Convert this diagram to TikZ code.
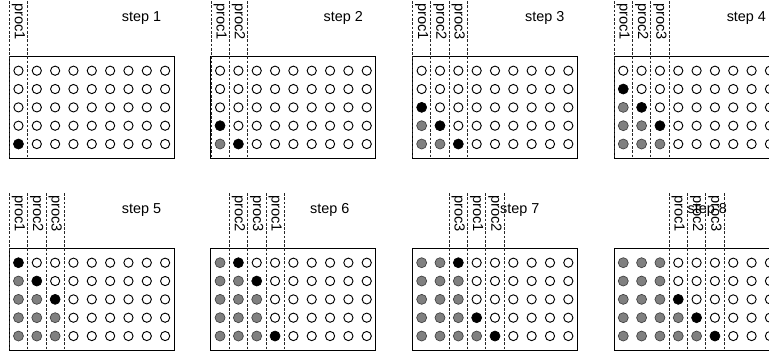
\documentclass[tikz,border=0pt]{standalone}
\usepackage{fontspec}
\setmainfont{Liberation Sans}
\begin{document}
\begin{tikzpicture}[x=0.75pt,y=-0.75pt,
  box/.style={draw=black,line width=0.75pt},
  sep/.style={draw=black!85,line width=0.55pt,dash pattern=on 2pt off 1.2pt},
  dotwhite/.style={circle,draw=black,line width=0.7pt,fill=white,inner sep=0pt,minimum size=6.9pt},
  dotgray/.style={circle,draw=black!75,line width=0.5pt,fill=black!50,inner sep=0pt,minimum size=7.5pt},
  dotblack/.style={circle,draw=black,line width=0.5pt,fill=black,inner sep=0pt,minimum size=7.5pt},
  proclabel/.style={font=\fontsize{11pt}{13pt}\selectfont,inner sep=0pt,rotate=-90,anchor=west},
  steplabel/.style={font=\fontsize{10.8pt}{12pt}\selectfont,inner sep=0pt,anchor=base west}]
\path[use as bounding box,clip] (0,0) rectangle (769,351);
\foreach \k/\off in {1/112.4,2/112.4,3/112.4,4/112.4,5/112.4,6/99,7/87.3,8/73.3}{
  \pgfmathtruncatemacro\rowi{(\k-1)/4}
  \pgfmathtruncatemacro\coli{mod(\k-1,4)}
  \pgfmathsetmacro\L{9.3+201.6*\coli}
  \pgfmathsetmacro\T{192*\rowi}
  \draw[box] (\L,\T+56.7) rectangle (\L+165,\T+158.3);
  \node[steplabel] (s\k) at (\L+\off,\T+21) {step \k};
  \foreach \c in {1,...,9}{
    \pgfmathtruncatemacro\st{\c+2*int((\c-1)/3)}
    \pgfmathtruncatemacro\d{\k-\st}
    \foreach \r in {1,...,5}{
      \pgfmathtruncatemacro\fr{5-\r}
      \ifnum\d=\fr \def\sty{dotblack}\else\ifnum\d>\fr \def\sty{dotgray}\else\def\sty{dotwhite}\fi\fi
      \node[\sty] (c\k-\c-\r) at (\L+9.17+18.333*\c-18.333,\T+70.7+18.333*\r-18.333) {};
    }
    \ifnum\d<0 \else\ifnum\d>4 \else
      \pgfmathtruncatemacro\p{mod(\c-1,3)+1}
      \draw[sep] (\L+18.333*\c-18.333,\T+1) -- (\L+18.333*\c-18.333,\T+158.3);
      \draw[sep] (\L+18.333*\c,\T+1) -- (\L+18.333*\c,\T+158.3);
      \node[proclabel] (p\k-\c) at (\L+9.17+18.333*\c-18.333,\T+3) {proc\p};
    \fi\fi
  }
}
\end{tikzpicture}
\end{document}
